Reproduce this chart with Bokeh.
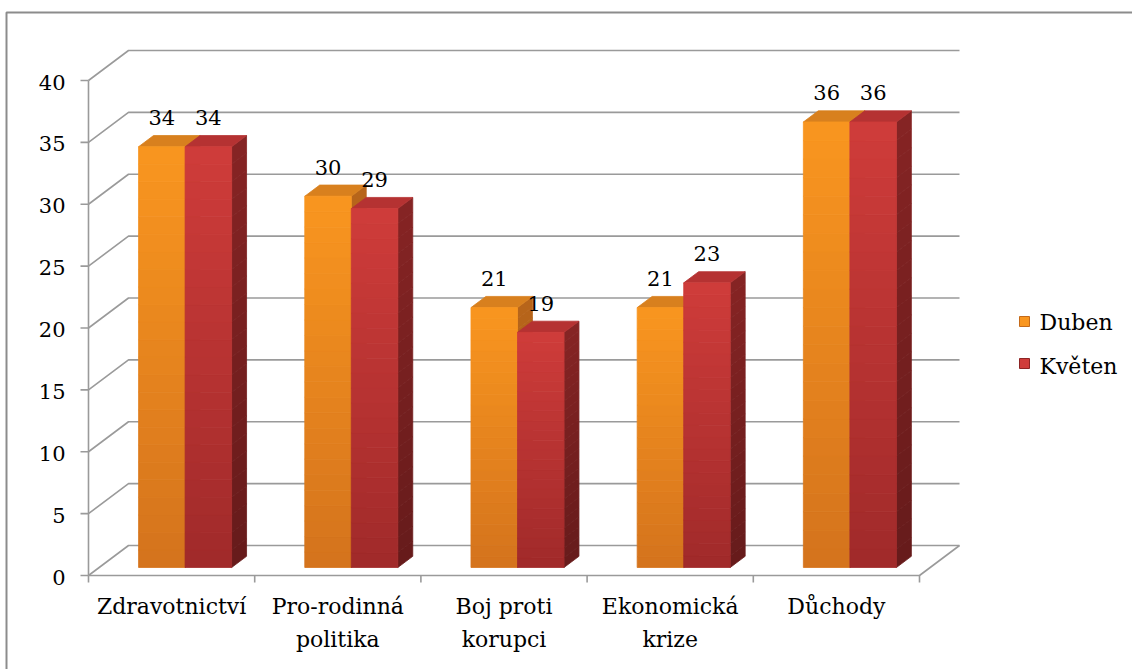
import numpy as np
from bokeh.plotting import figure
from bokeh.models import Range1d, ColumnDataSource
from bokeh.core.properties import value
from bokeh.embed import file_html
from bokeh.resources import INLINE

# ---------------- data ----------------
categories = ["Zdravotnictví", "Pro-rodinná\npolitika", "Boj proti\nkorupci",
              "Ekonomická\nkrize", "Důchody"]
series_names = ["Duben", "Květen"]
duben = [34, 30, 21, 21, 36]
kveten = [34, 29, 19, 23, 36]
y_ticks = [0, 5, 10, 15, 20, 25, 30, 35, 40]

series_values = [duben, kveten]

# ---------------- layout (pixel geometry) ----------------
W, H = 1132, 669
X0_PX, CAT_PX = 88.0, 166.2      # left end of category axis, one category
Y0_PX, UNIT_PX = 575.0, 12.375   # value-axis zero, pixels per unit

x_start = -X0_PX / CAT_PX
x_end = (W - X0_PX) / CAT_PX
y_start = (Y0_PX - H) / UNIT_PX
y_end = Y0_PX / UNIT_PX


def sx(px):
    return (px - X0_PX) / CAT_PX


def sy(py):
    return (Y0_PX - py) / UNIT_PX


DX = 40.0 / CAT_PX   # full depth of the 3D box, in data units
DY = 30.0 / UNIT_PX

ncat = len(categories)
vmax = y_ticks[-1]

FONT = value("DejaVu Serif")
GRID = "#9a9a9a"

p = figure(width=W, height=H, x_range=Range1d(x_start, x_end),
           y_range=Range1d(y_start, y_end), output_backend="svg",
           toolbar_location=None, x_axis_type=None, y_axis_type=None,
           min_border=0)
p.grid.visible = False
p.outline_line_color = None
p.background_fill_color = "white"
p.border_fill_color = "white"

# outer chart-area border (left and top edges visible)
p.line([sx(6), sx(6), sx(W + 10)], [sy(H + 10), sy(12), sy(12)],
       line_color="#8c8c8c", line_width=2)

# back-wall gridlines with diagonals to the front axis
gx, gy = [], []
for t in y_ticks:
    gx.append([0, DX, ncat + DX])
    gy.append([t, t + DY, t + DY])
p.multi_line(gx, gy, line_color=GRID, line_width=1.6)

# floor front / right edges, value axis, ticks
p.line([0, ncat, ncat + DX], [0, 0, DY], line_color=GRID, line_width=1.6)
p.line([0, 0], [0, vmax], line_color=GRID, line_width=1.6)
tick_len_x = 8.0 / CAT_PX
p.multi_line([[-tick_len_x, 0] for t in y_ticks], [[t, t] for t in y_ticks],
             line_color=GRID, line_width=1.6)
tick_len_y = 7.0 / UNIT_PX
p.multi_line([[c, c] for c in range(ncat + 1)],
             [[0, -tick_len_y] for c in range(ncat + 1)],
             line_color=GRID, line_width=1.6)

# value tick labels
p.text(x=[sx(65)] * len(y_ticks), y=[t - 1.5 / UNIT_PX for t in y_ticks],
       text=[str(t) for t in y_ticks], text_font=FONT,
       text_font_size="21px", text_align="right", text_baseline="middle",
       text_color="black")

# category labels
p.text(x=[c + 0.5 for c in range(ncat)], y=[sy(593)] * ncat, text=categories,
       text_font=FONT, text_font_size="22px", text_align="center",
       text_baseline="top", text_line_height=1.33, text_color="black")


# ---------------- 3D bars ----------------
def hex2rgb(h):
    h = h.lstrip("#")
    return np.array([int(h[i:i + 2], 16) for i in (0, 2, 4)], dtype=float)


def mix(c1, c2, t):
    a, b = hex2rgb(c1), hex2rgb(c2)
    r = a + (b - a) * t
    return "#%02x%02x%02x" % tuple(int(round(v)) for v in r)


styles = [
    dict(front=("#f9961f", "#d4731d"), side=("#b8651a", "#94501a"),
         top="#d8801e", edge="#c46a1a"),
    dict(front=("#cf3c3a", "#a02a2a"), side=("#862424", "#661b1b"),
         top="#b53232", edge="#8c2424"),
]

BAR_LEFT, BAR_W = 0.237, 0.28
F1, F2 = 0.267, 0.64
NSTRIP = 24

xs, ys, cols = [], [], []
lbl_x, lbl_y, lbl_t = [], [], []
for i in range(ncat):
    for s in range(len(series_values)):
        v = series_values[s][i]
        st = styles[s]
        xl = i + BAR_LEFT + s * BAR_W
        xr = xl + BAR_W
        # side face
        for k in range(NSTRIP):
            y0 = v * k / NSTRIP
            y1 = v * (k + 1) / NSTRIP
            c = mix(st["side"][1], st["side"][0], (k + 0.5) / NSTRIP)
            xs.append([xr + F1 * DX, xr + F2 * DX, xr + F2 * DX, xr + F1 * DX])
            ys.append([y0 + F1 * DY, y0 + F2 * DY, y1 + F2 * DY, y1 + F1 * DY])
            cols.append(c)
        # top face
        xs.append([xl + F1 * DX, xr + F1 * DX, xr + F2 * DX, xl + F2 * DX])
        ys.append([v + F1 * DY, v + F1 * DY, v + F2 * DY, v + F2 * DY])
        cols.append(st["top"])
        # front face
        for k in range(NSTRIP):
            y0 = v * k / NSTRIP
            y1 = v * (k + 1) / NSTRIP
            c = mix(st["front"][1], st["front"][0], (k + 0.5) / NSTRIP)
            xs.append([xl + F1 * DX, xr + F1 * DX, xr + F1 * DX, xl + F1 * DX])
            ys.append([y0 + F1 * DY, y0 + F1 * DY, y1 + F1 * DY, y1 + F1 * DY])
            cols.append(c)
        lbl_x.append((xl + xr) / 2 + F1 * DX)
        lbl_y.append(v + F1 * DY + 29.0 / UNIT_PX)
        lbl_t.append(str(v))

src = ColumnDataSource(dict(xs=xs, ys=ys, c=cols))
p.patches("xs", "ys", source=src, fill_color="c", line_color="c",
          line_width=0.8)

# data labels
p.text(x=lbl_x, y=lbl_y, text=lbl_t, text_font=FONT, text_font_size="21px",
       text_align="center", text_baseline="middle", text_color="black")

# ---------------- legend ----------------
p.scatter(x=[sx(1024)] * 2, y=[sy(321), sy(363)], marker="square", size=10,
          fill_color=[styles[0]["front"][0], styles[1]["front"][0]],
          line_color=[styles[0]["edge"], styles[1]["edge"]], line_width=1)
p.text(x=[sx(1039)] * 2, y=[sy(322), sy(366)], text=series_names,
       text_font=FONT, text_font_size="22px", text_align="left",
       text_baseline="middle", text_color="black")

open("out.html", "w").write(file_html(p, INLINE))
